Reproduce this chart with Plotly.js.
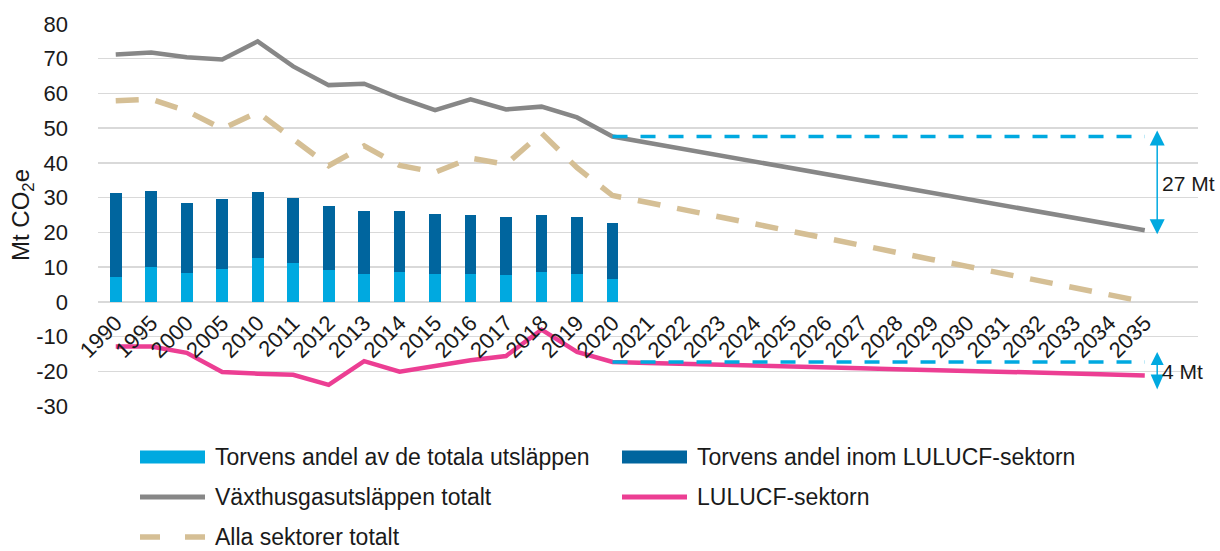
<!DOCTYPE html>
<html>
<head>
<meta charset="utf-8">
<script src="https://cdn.plot.ly/plotly-3.0.1.min.js"></script>
<style>
html,body{margin:0;padding:0;background:#ffffff;}
#chart{width:1220px;height:551px;}
</style>
</head>
<body>
<div id="chart"></div>
<script>
// ---------- DATA ----------
const years = ['1990','1995','2000','2005','2010','2011','2012','2013','2014','2015','2016','2017','2018','2019','2020',
               '2021','2022','2023','2024','2025','2026','2027','2028','2029','2030','2031','2032','2033','2034','2035'];
const barYears = ['1990','1995','2000','2005','2010','2011','2012','2013','2014','2015','2016','2017','2018','2019','2020'];

// Torvens andel av de totala utsläppen (light blue, bottom of stack)
const peatShareTotal = [7.1, 10.0, 8.2, 9.4, 12.5, 11.1, 9.1, 7.9, 8.5, 7.9, 7.9, 7.6, 8.5, 7.9, 6.5];
// Torvens andel inom LULUCF-sektorn (dark blue, stacked on top)
const peatShareLulucf = [24.2, 21.9, 20.2, 20.2, 19.1, 18.8, 18.5, 18.2, 17.6, 17.4, 17.1, 16.8, 16.5, 16.5, 16.2];

// Växthusgasutsläppen totalt
const ghgTotal = [71.2, 71.8, 70.4, 69.8, 75.0, 67.8, 62.4, 62.8, 58.7, 55.2, 58.3, 55.4, 56.2, 53.1, 47.6,
                  45.8, 44.0, 42.2, 40.4, 38.6, 36.8, 35.0, 33.2, 31.4, 29.6, 27.8, 26.0, 24.2, 22.4, 20.6];
// LULUCF-sektorn
const lulucf = [-12.9, -12.9, -14.7, -20.2, -20.7, -21.0, -23.9, -17.1, -20.1, -18.3, -16.8, -15.6, -8.0, -14.4, -17.3,
                -17.6, -17.8, -18.1, -18.3, -18.6, -18.9, -19.1, -19.4, -19.6, -19.9, -20.2, -20.4, -20.7, -20.9, -21.2];
// Alla sektorer totalt
const allSectors = [57.9, 58.3, 55.0, 49.8, 54.6, 47.0, 39.2, 44.9, 39.3, 37.3, 41.4, 39.6, 48.6, 38.6, 30.6,
                    28.6, 26.5, 24.5, 22.4, 20.4, 18.4, 16.3, 14.3, 12.2, 10.2, 8.2, 6.1, 4.1, 2.0, 0.0];

// y-axis tick labels (hyphen minus as in the original)
const yTickVals = [-30, -20, -10, 0, 10, 20, 30, 40, 50, 60, 70, 80];
const yTickText = ['-30', '-20', '-10', '0', '10', '20', '30', '40', '50', '60', '70', '80'];

const refYear = '2020';
const endYear = '2035';
const label27 = '27 Mt';
const label4 = '4 Mt';

const seriesNames = {
  light: 'Torvens andel av de totala utsläppen',
  dark: 'Torvens andel inom LULUCF-sektorn',
  ghg: 'Växthusgasutsläppen totalt',
  lulucf: 'LULUCF-sektorn',
  all: 'Alla sektorer totalt'
};

// ---------- STYLE / LAYOUT ----------
const C = {
  light: '#00A9E0', dark: '#00659E', gray: '#878787', pink: '#EC3E93',
  beige: '#D5BF95', grid: '#D9D9D9', text: '#1a1a1a'
};
const FONT = 'Liberation Sans, Arial, sans-serif';
const W = 1220, H = 551;
const M = {l: 98, r: 22, t: 24, b: 145};
const PW = W - M.l - M.r, PH = H - M.t - M.b;
const yRange = [-30, 80];
const xRange = [-0.5, 30.5];
const px = x => (x - M.l) / PW;          // pixel -> paper x
const py = y => (H - M.b - y) / PH;      // pixel -> paper y

const xi = years.map((_, i) => i);
const xb = barYears.map(y => years.indexOf(y));
const iRef = years.indexOf(refYear), iEnd = years.indexOf(endYear);
const arrowX = iEnd + 0.35;

const traces = [
  {type: 'bar', x: xb, y: peatShareTotal, name: seriesNames.light, marker: {color: C.light}, width: 0.33, hoverinfo: 'y'},
  {type: 'bar', x: xb, y: peatShareLulucf, name: seriesNames.dark, marker: {color: C.dark}, width: 0.33, hoverinfo: 'y'},
  {type: 'scatter', mode: 'lines', x: xi, y: ghgTotal, name: seriesNames.ghg, line: {color: C.gray, width: 4.5}},
  {type: 'scatter', mode: 'lines', x: xi, y: lulucf, name: seriesNames.lulucf, line: {color: C.pink, width: 4.5}},
  {type: 'scatter', mode: 'lines', x: xi, y: allSectors, name: seriesNames.all, line: {color: C.beige, width: 5.5, dash: '23px,17px'}},
  {type: 'scatter', mode: 'lines', x: [iRef, iEnd], y: [ghgTotal[iRef], ghgTotal[iRef]], line: {color: C.light, width: 3.5, dash: '15px,13px'}, hoverinfo: 'skip'},
  {type: 'scatter', mode: 'lines', x: [iRef, iEnd], y: [lulucf[iRef], lulucf[iRef]], line: {color: C.light, width: 3.5, dash: '15px,13px'}, hoverinfo: 'skip'}
];

// custom legend
const legFont = {family: FONT, size: 23, color: C.text};
const rows = [457, 497, 537];
const col1 = [140, 205, 213], col2 = [622, 687, 695];
const shapes = [
  {type: 'rect', xref: 'paper', yref: 'paper', x0: px(col1[0]), x1: px(col1[1]), y0: py(rows[0] + 6.5), y1: py(rows[0] - 6.5), fillcolor: C.light, line: {width: 0}},
  {type: 'rect', xref: 'paper', yref: 'paper', x0: px(col2[0]), x1: px(col2[1]), y0: py(rows[0] + 6.5), y1: py(rows[0] - 6.5), fillcolor: C.dark, line: {width: 0}},
  {type: 'line', xref: 'paper', yref: 'paper', x0: px(col1[0]), x1: px(col1[1]), y0: py(rows[1]), y1: py(rows[1]), line: {color: C.gray, width: 5}},
  {type: 'line', xref: 'paper', yref: 'paper', x0: px(col2[0]), x1: px(col2[1]), y0: py(rows[1]), y1: py(rows[1]), line: {color: C.pink, width: 5}},
  {type: 'line', xref: 'paper', yref: 'paper', x0: px(col1[0]), x1: px(col1[1]), y0: py(rows[2]), y1: py(rows[2]), line: {color: C.beige, width: 5.5, dash: '20px,25px'}}
];

// double-headed arrows drawn as a line plus two pixel-sized triangular heads anchored on the data values
function doubleArrow(yTop, yBot, topHead, botHead) {
  shapes.push({type: 'line', xref: 'x', yref: 'y', x0: arrowX, x1: arrowX, y0: yTop, y1: yBot, line: {color: C.light, width: 1.5}});
  shapes.push({type: 'path', xref: 'x', yref: 'y', xsizemode: 'pixel', ysizemode: 'pixel', xanchor: arrowX, yanchor: yTop,
               path: topHead, fillcolor: C.light, line: {width: 0}});
  shapes.push({type: 'path', xref: 'x', yref: 'y', xsizemode: 'pixel', ysizemode: 'pixel', xanchor: arrowX, yanchor: yBot,
               path: botHead, fillcolor: C.light, line: {width: 0}});
}
doubleArrow(ghgTotal[iRef], ghgTotal[iEnd], 'M-7.5,-9L0,6L7.5,-9Z', 'M-7.5,11L0,-4L7.5,11Z');
doubleArrow(lulucf[iRef], lulucf[iEnd], 'M-6.5,-3L0,10L6.5,-3Z', 'M-6.5,1L0,-14L6.5,1Z');

const legText = (txt, col, row) => ({xref: 'paper', yref: 'paper', x: px(col[2]), y: py(row), xanchor: 'left', yanchor: 'middle', text: txt, showarrow: false, font: legFont});

const annFont = {family: FONT, size: 21, color: C.text};
const annotations = [
  {xref: 'paper', yref: 'paper', x: px(22), y: py(215), text: 'Mt CO<sub>2</sub>e', textangle: -90, showarrow: false,
   xanchor: 'center', yanchor: 'middle', font: {family: FONT, size: 24, color: C.text}},
  {xref: 'x', yref: 'y', x: arrowX, y: (ghgTotal[iRef] + ghgTotal[iEnd]) / 2, xanchor: 'left', yanchor: 'middle', xshift: 3,
   text: label27, showarrow: false, font: annFont},
  {xref: 'x', yref: 'y', x: arrowX, y: (lulucf[iRef] + lulucf[iEnd]) / 2, xanchor: 'left', yanchor: 'middle', xshift: 3, yshift: -3,
   text: label4, showarrow: false, font: annFont},
  legText(seriesNames.light, col1, rows[0]),
  legText(seriesNames.dark, col2, rows[0]),
  legText(seriesNames.ghg, col1, rows[1]),
  legText(seriesNames.lulucf, col2, rows[1]),
  legText(seriesNames.all, col1, rows[2])
];

const layout = {
  width: W, height: H,
  margin: M,
  paper_bgcolor: '#ffffff', plot_bgcolor: '#ffffff',
  barmode: 'stack',
  showlegend: false,
  font: {family: FONT, color: C.text},
  xaxis: {
    type: 'linear', range: xRange, tickvals: xi, ticktext: years, tickangle: -45,
    tickfont: {family: FONT, size: 22, color: C.text},
    anchor: 'free', position: (0 - yRange[0]) / (yRange[1] - yRange[0]),
    ticklabelstandoff: 3,
    showgrid: false, zeroline: false, showline: false, ticks: '', fixedrange: true
  },
  yaxis: {
    range: yRange, tickvals: yTickVals, ticktext: yTickText, tickfont: {family: FONT, size: 22, color: C.text},
    showgrid: true, gridcolor: C.grid, gridwidth: 1.5, zeroline: false, showline: false, ticks: '',
    ticklabelstandoff: 29, fixedrange: true
  },
  shapes: shapes,
  annotations: annotations
};

Plotly.newPlot('chart', traces, layout, {displayModeBar: false, staticPlot: true});
</script>
</body>
</html>
